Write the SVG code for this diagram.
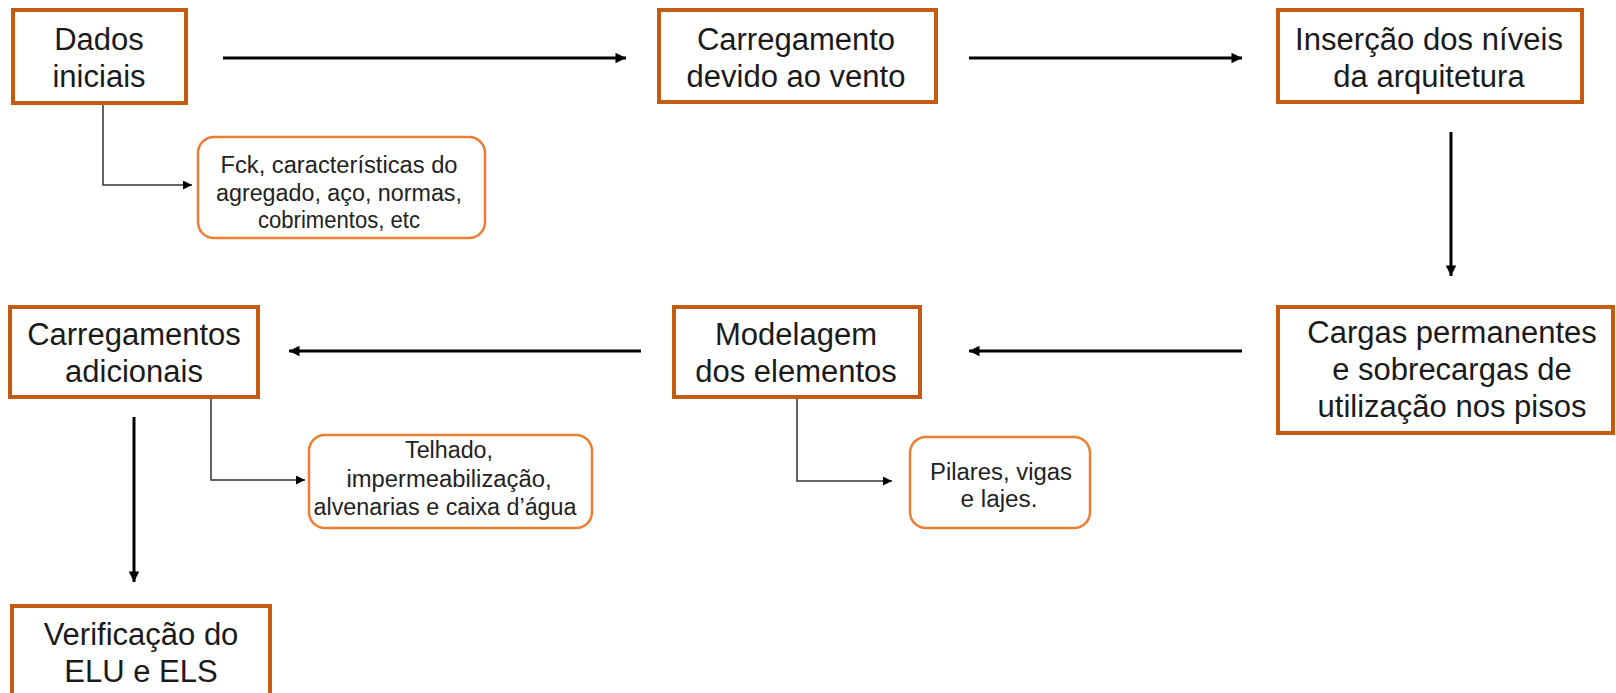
<svg xmlns="http://www.w3.org/2000/svg" width="1616" height="693" viewBox="0 0 1616 693">
<defs>
<style>
.main{fill:#fff;stroke:#C55A11;stroke-width:4}
.sub{fill:#fff;stroke:#ED7D31;stroke-width:2.5}
.t{font-family:"Liberation Sans",Arial,sans-serif;font-size:31px;fill:#1a1a1a;text-anchor:middle}
.s{font-family:"Liberation Sans",Arial,sans-serif;font-size:23px;fill:#222;text-anchor:middle}
.c{fill:none;stroke:#000;stroke-width:3}
.cs{fill:none;stroke:#333;stroke-width:1.5}
</style>
<marker id="ah" viewBox="0 0 10 10" refX="10" refY="5" markerWidth="4" markerHeight="3.5" orient="auto" markerUnits="strokeWidth"><path d="M0,0 L10,5 L0,10 z" fill="#000"/></marker>
<marker id="ahs" viewBox="0 0 10 10" refX="10" refY="5" markerWidth="7" markerHeight="6" orient="auto" markerUnits="strokeWidth"><path d="M0,0 L10,5 L0,10 z" fill="#000"/></marker>
</defs>
<rect width="1616" height="693" fill="#fff"/>
<g id="connectors">
<path class="c" d="M223,58 H626" marker-end="url(#ah)"/>
<path class="c" d="M969,58 H1242" marker-end="url(#ah)"/>
<path class="c" d="M1451,132 V276" marker-end="url(#ah)"/>
<path class="c" d="M1242,351 H969" marker-end="url(#ah)"/>
<path class="c" d="M641,351 H289" marker-end="url(#ah)"/>
<path class="c" d="M134,417 V582" marker-end="url(#ah)"/>
<path class="cs" d="M103,103 V185 H192" marker-end="url(#ahs)"/>
<path class="cs" d="M211,397 V480 H305" marker-end="url(#ahs)"/>
<path class="cs" d="M797,397 V481 H892" marker-end="url(#ahs)"/>
</g>
<g id="n-dados"><rect class="main" x="13" y="10" width="173" height="93"/><text class="t" x="99" y="50">Dados</text><text class="t" x="99" y="87">iniciais</text></g>
<g id="n-vento"><rect class="main" x="659" y="10" width="277" height="92"/><text class="t" x="796" y="50">Carregamento</text><text class="t" x="796" y="87">devido ao vento</text></g>
<g id="n-niveis"><rect class="main" x="1278" y="10" width="304" height="92"/><text class="t" x="1429" y="50" textLength="268" lengthAdjust="spacing">Inserção dos níveis</text><text class="t" x="1429" y="87">da arquitetura</text></g>
<g id="n-fck"><rect class="sub" x="198" y="137" width="287" height="101" rx="16"/><text class="s" x="339" y="173" textLength="237" lengthAdjust="spacingAndGlyphs">Fck, características do</text><text class="s" x="339" y="201" textLength="246" lengthAdjust="spacingAndGlyphs">agregado, aço, normas,</text><text class="s" x="339" y="228" textLength="162" lengthAdjust="spacingAndGlyphs">cobrimentos, etc</text></g>
<g id="n-cargas"><rect class="main" x="1278" y="307" width="335" height="126"/><text class="t" x="1452" y="343">Cargas permanentes</text><text class="t" x="1452" y="380">e sobrecargas de</text><text class="t" x="1452" y="417">utilização nos pisos</text></g>
<g id="n-modelagem"><rect class="main" x="674" y="307" width="246" height="90"/><text class="t" x="796" y="345">Modelagem</text><text class="t" x="796" y="382">dos elementos</text></g>
<g id="n-adicionais"><rect class="main" x="10" y="307" width="248" height="90"/><text class="t" x="134" y="345">Carregamentos</text><text class="t" x="134" y="382">adicionais</text></g>
<g id="n-telhado"><rect class="sub" x="309" y="435" width="283" height="93" rx="16"/><text class="s" x="449" y="458" textLength="88" lengthAdjust="spacingAndGlyphs">Telhado,</text><text class="s" x="449" y="487" textLength="205" lengthAdjust="spacingAndGlyphs">impermeabilização,</text><text class="s" x="445" y="515" textLength="263" lengthAdjust="spacingAndGlyphs">alvenarias e caixa d’água</text></g>
<g id="n-pilares"><rect class="sub" x="910" y="437" width="180" height="91" rx="16"/><text class="s" x="1001" y="480" textLength="142" lengthAdjust="spacingAndGlyphs">Pilares, vigas</text><text class="s" x="999" y="507" textLength="77" lengthAdjust="spacingAndGlyphs">e lajes.</text></g>
<g id="n-verif"><rect class="main" x="12" y="606" width="258" height="100"/><text class="t" x="141" y="645">Verificação do</text><text class="t" x="141" y="682">ELU e ELS</text></g>
</svg>
